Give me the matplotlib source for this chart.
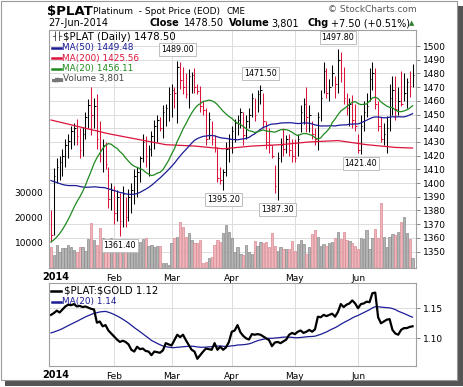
import matplotlib
matplotlib.use("Agg")
import matplotlib.pyplot as plt
from matplotlib.lines import Line2D
from matplotlib.patches import Rectangle
import numpy as np
import pandas as pd

# trading days on the chart
dates = pd.bdate_range("2014-01-02", "2014-06-27")

high = [1380, 1411, 1418, 1420, 1425, 1432, 1436, 1442, 1444, 1447,
        1440, 1441, 1452, 1461, 1470, 1462, 1465, 1445, 1432, 1430,
        1412, 1400, 1398, 1395, 1393, 1398, 1390, 1396, 1400, 1410,
        1412, 1420, 1436, 1434, 1428, 1438, 1446, 1450, 1448, 1457,
        1458, 1470, 1472, 1470, 1489, 1488, 1485, 1480, 1483, 1481,
        1484, 1472, 1471, 1460, 1455, 1452, 1445, 1435, 1426, 1412,
        1410, 1430, 1436, 1442, 1447, 1450, 1455, 1452, 1450, 1455,
        1466, 1462, 1468, 1471.5, 1466, 1445, 1440, 1428, 1413, 1423,
        1433, 1440, 1435, 1436, 1432, 1432, 1436, 1457, 1462, 1470,
        1457, 1445, 1440, 1452, 1468, 1488, 1484, 1476, 1486, 1478,
        1497.8, 1496, 1485, 1466, 1462, 1464, 1458, 1436, 1450, 1460,
        1466, 1484, 1488, 1484, 1460, 1448, 1444, 1449, 1472, 1478,
        1478, 1470, 1482, 1480, 1477, 1482, 1487]
low = [1357, 1362, 1400, 1402, 1405, 1412, 1418, 1425, 1428, 1428,
       1418, 1420, 1432, 1440, 1435, 1440, 1425, 1415, 1408, 1410,
       1382, 1380, 1370, 1372, 1361.4, 1368, 1368, 1372, 1378, 1385,
       1390, 1401, 1415, 1412, 1405, 1420, 1425, 1430, 1438, 1433,
       1442, 1445, 1448, 1455, 1444, 1469, 1465, 1462, 1455, 1466,
       1466, 1465, 1452, 1450, 1428, 1432, 1428, 1423, 1401, 1399,
       1395.2, 1405, 1415, 1422, 1430, 1435, 1440, 1428, 1432, 1440,
       1448, 1445, 1452, 1458, 1440, 1425, 1422, 1418, 1393, 1387.3,
       1415, 1420, 1422, 1420, 1415, 1415, 1420, 1437, 1443, 1437,
       1437, 1432, 1428, 1424, 1445, 1466, 1462, 1460, 1471, 1462,
       1466, 1474, 1458, 1450, 1442, 1440, 1438, 1422, 1421.4, 1438,
       1448, 1460, 1468, 1454, 1438, 1430, 1428, 1422, 1438, 1450,
       1446, 1450, 1456, 1460, 1455, 1463, 1470]
close = [1362, 1405, 1412, 1415, 1420, 1428, 1431, 1438, 1440, 1434,
         1424, 1436, 1448, 1457, 1450, 1456, 1432, 1420, 1428, 1414,
         1388, 1395, 1378, 1390, 1372, 1392, 1375, 1390, 1395, 1405,
         1408, 1418, 1430, 1420, 1425, 1434, 1442, 1446, 1440, 1452,
         1455, 1465, 1468, 1466, 1485, 1475, 1470, 1465, 1478, 1479,
         1470, 1467, 1456, 1453, 1432, 1447, 1432, 1426, 1404, 1402,
         1408, 1425, 1432, 1438, 1444, 1446, 1452, 1435, 1445, 1450,
         1462, 1450, 1465, 1468, 1445, 1430, 1428, 1420, 1398, 1418,
         1428, 1425, 1432, 1424, 1420, 1418, 1432, 1452, 1458, 1448,
         1450, 1436, 1432, 1448, 1462, 1482, 1466, 1470, 1480, 1472,
         1490, 1480, 1462, 1455, 1458, 1446, 1442, 1424, 1442, 1452,
         1456, 1476, 1480, 1458, 1442, 1432, 1436, 1440, 1462, 1468,
         1454, 1460, 1458, 1466, 1474, 1471, 1478.5]
volume = [8400, 5100, 9100, 6500, 7800, 7800, 9100, 8400, 7000, 6500,
          8400, 8400, 6700, 11500, 17700, 11100, 9000, 15700, 11700, 9100,
          8400, 11700, 11100, 9500, 9800, 8000, 8000, 10100, 9100, 10400,
          9100, 10100, 11300, 11700, 8700, 9000, 8400, 8700, 8800, 1800,
          2100, 1200, 10000, 11700, 12400, 18000, 16300, 12400, 13700, 11100,
          9800, 10000, 11100, 1800, 2500, 3800, 4500, 9000, 11100, 10400,
          13700, 17000, 14400, 11700, 6500, 8400, 5500, 5100, 9100, 6500,
          5500, 10700, 8800, 10300, 10000, 10300, 8400, 13900, 8800, 6900,
          8200, 7400, 7500, 7400, 10500, 6900, 9500, 11100, 9500, 5500,
          8300, 13300, 15000, 12400, 8700, 9400, 8800, 9700, 10400, 11700,
          14200, 11300, 14100, 11100, 10700, 9700, 8800, 7400, 12000, 11600,
          15000, 7500, 11700, 15400, 11700, 25800, 12100, 8400, 12400, 13300,
          13000, 14200, 18000, 20000, 14000, 11300, 3801]
# closes before the window, for the moving averages
prior_close = [1440, 1448, 1452, 1456, 1450, 1445, 1440, 1438, 1442, 1450,
               1455, 1460, 1452, 1448, 1444, 1440, 1436, 1430, 1428, 1425,
               1420, 1418, 1415, 1412, 1410, 1408, 1405, 1400, 1395, 1388,
               1375, 1370, 1365, 1360, 1358, 1355, 1352, 1350, 1352, 1355,
               1358, 1354, 1350, 1348, 1345, 1350, 1355, 1358, 1368]
ma200_day = [0, 10, 20, 30, 40, 50, 60, 70, 80, 90, 100, 110, 120, 126]
ma200 = [1446, 1441, 1436, 1432, 1428, 1427, 1425, 1427, 1428, 1430,
         1431, 1428, 1426, 1425.56]

ratio = [1.139, 1.142, 1.146, 1.143, 1.148, 1.153, 1.156, 1.155, 1.157, 1.153,
         1.154, 1.152, 1.153, 1.151, 1.149, 1.148, 1.126, 1.128, 1.120, 1.122,
         1.113, 1.108, 1.103, 1.098, 1.094, 1.096, 1.094, 1.090, 1.081, 1.078,
         1.086, 1.082, 1.083, 1.079, 1.078, 1.072, 1.078, 1.077, 1.076, 1.080,
         1.092, 1.090, 1.088, 1.097, 1.106, 1.102, 1.106, 1.097, 1.089, 1.081,
         1.078, 1.066, 1.072, 1.078, 1.083, 1.082, 1.081, 1.092, 1.081, 1.086,
         1.081, 1.085, 1.094, 1.111, 1.113, 1.122, 1.110, 1.104, 1.100, 1.098,
         1.107, 1.106, 1.107, 1.106, 1.103, 1.100, 1.097, 1.087, 1.093, 1.094,
         1.092, 1.095, 1.098, 1.106, 1.109, 1.107, 1.111, 1.113, 1.109, 1.111,
         1.114, 1.111, 1.115, 1.136, 1.135, 1.139, 1.137, 1.139, 1.141, 1.136,
         1.144, 1.157, 1.152, 1.156, 1.158, 1.163, 1.158, 1.150, 1.157, 1.158,
         1.161, 1.160, 1.175, 1.176, 1.135, 1.125, 1.128, 1.131, 1.132, 1.114,
         1.108, 1.106, 1.114, 1.117, 1.117, 1.119, 1.120]
prior_ratio = [1.112, 1.110, 1.108, 1.105, 1.103, 1.106, 1.108, 1.110, 1.107, 1.104,
               1.102, 1.105, 1.108, 1.110, 1.109, 1.106, 1.104, 1.108, 1.116]

label_days = [24, 44, 60, 73, 79, 100, 108]
label_side = ["low", "high", "low", "high", "low", "high", "low"]

price_ticks = list(range(1350, 1501, 10))
vol_ticks = [10000, 20000, 30000]
ratio_ticks = [1.10, 1.15]

RED = "#dc143c"
NAVY = "#1c1c96"
GREEN = "#1f8a1f"

plt.rcParams["font.family"] = ["DejaVu Sans"]
plt.rcParams["text.parse_math"] = False

W, H = 464, 387
fig = plt.figure(figsize=(W / 100, H / 100), dpi=100)


def fx(px):
    return px / W


def fy(py):
    return 1 - py / H


main_rect = [fx(49), fy(268), fx(416) - fx(49), fy(30) - fy(268)]
low_rect = [fx(49), fy(366), fx(416) - fx(49), fy(283) - fy(366)]

x = np.arange(len(dates))
npre = len(prior_close)
c_all = pd.Series(prior_close + close)
ma20 = c_all.rolling(20).mean().to_numpy()[npre:]
ma50 = c_all.rolling(50).mean().to_numpy()[npre:]
prev = np.r_[prior_close[-1], close[:-1]]
down = np.array(close) < prev
r_all = pd.Series(prior_ratio + ratio)
rma20 = r_all.rolling(20).mean().to_numpy()[len(prior_ratio):]

months = dates.to_period("M")
month_idx = [i for i in range(1, len(dates)) if months[i] != months[i - 1]]
month_lab = [dates[i].strftime("%b") for i in month_idx]

xlim = (-0.7, 127.2)
plim = (1338, 1511.7)
GRID = "#dcdcdc"
SPINE = "#a0a0a0"

# grid layer
axg = fig.add_axes(main_rect)
axg.set_xlim(xlim)
axg.set_ylim(plim)
for lv in price_ticks:
    axg.axhline(lv, color=GRID, lw=0.7)
for m in month_idx:
    axg.axvline(m, color=GRID, lw=0.7)
axg.axis("off")

# volume layer
axv = fig.add_axes(main_rect)
axv.patch.set_visible(False)
axv.set_xlim(xlim)
axv.set_ylim(0, 94000)
axv.bar(x, volume, width=0.8,
        color=np.where(down, "#f0b4ba", "#b4b4b4"),
        edgecolor=np.where(down, "#d88a94", "#8a8a8a"), linewidth=0.5)
for s in axv.spines.values():
    s.set_visible(False)
axv.set_xticks([])
axv.set_yticks(vol_ticks)
axv.set_yticklabels([str(v) for v in vol_ticks])
axv.tick_params(axis="y", length=0, pad=4, labelsize=6.5)

# price layer
ax = fig.add_axes(main_rect)
ax.patch.set_visible(False)
ax.set_xlim(xlim)
ax.set_ylim(plim)
cols = np.where(down, RED, "black")
ax.vlines(x, low, high, colors=cols, lw=0.75)
ax.hlines(close, x, x + 0.55, colors=cols, lw=0.75)
ax.plot(ma200_day, ma200, color=RED, lw=0.9)
ax.plot(x, ma50, color=NAVY, lw=0.9)
ax.plot(x, ma20, color=GREEN, lw=0.9)

for d, side in zip(label_days, label_side):
    v = high[d] if side == "high" else low[d]
    off = 11.5 if side == "high" else -9.5
    ax.annotate(f"{v:.2f}", xy=(d, v), xytext=(0, off), textcoords="offset pixels",
                ha="center", va="center", fontsize=5.8,
                bbox=dict(boxstyle="square,pad=0.25", fc="white", ec="#bdbdbd", lw=0.7))

ax.yaxis.tick_right()
ax.set_yticks(price_ticks)
ax.tick_params(axis="y", direction="out", length=3, width=0.6, color="#777777",
               pad=2, labelsize=6.5)
ax.set_xticks(month_idx)
ax.set_xticklabels(month_lab)
ax.tick_params(axis="x", length=0, pad=4, labelsize=6.5)
ax.text(1.6, -0.036, "2014", transform=ax.get_xaxis_transform(), ha="center",
        va="center", fontsize=7, fontweight="bold")
for s in ax.spines.values():
    s.set_color(SPINE)
    s.set_linewidth(0.8)

# ratio panel
ax2 = fig.add_axes(low_rect)
ax2.set_xlim(xlim)
ax2.set_ylim(1.054, 1.192)
for lv in ratio_ticks:
    ax2.axhline(lv, color=GRID, lw=0.7, zorder=0)
for m in month_idx:
    ax2.axvline(m, color=GRID, lw=0.7, zorder=0)
ax2.plot(x, rma20, color=NAVY, lw=0.9)
ax2.plot(x, ratio, color="black", lw=1.6)
ax2.yaxis.tick_right()
ax2.set_yticks(ratio_ticks)
ax2.set_yticklabels([f"{v:.2f}" for v in ratio_ticks])
ax2.tick_params(axis="y", direction="out", length=3, width=0.6, color="#777777",
                pad=2, labelsize=6.5)
ax2.set_xticks(month_idx)
ax2.set_xticklabels(month_lab)
ax2.tick_params(axis="x", length=0, pad=4, labelsize=6.5)
ax2.text(1.6, -0.105, "2014", transform=ax2.get_xaxis_transform(), ha="center",
         va="center", fontsize=7, fontweight="bold")
for s in ax2.spines.values():
    s.set_color(SPINE)
    s.set_linewidth(0.8)


def ftext(px, py, s, **kw):
    kw.setdefault("va", "center")
    kw.setdefault("ha", "left")
    fig.text(fx(px), fy(py), s, **kw)


# header
ftext(47, 11, "$PLAT", fontsize=9.5, fontweight="bold")
ftext(93, 11, "Platinum  - Spot Price (EOD)", fontsize=6.5)
ftext(227, 11, "CME", fontsize=6.2)
ftext(417, 10, "\u00a9 StockCharts.com", fontsize=6.5, color="#555555", ha="right")
ftext(48, 23.5, "27-Jun-2014", fontsize=7)
ftext(149, 23.5, "Close", fontsize=7, fontweight="bold")
ftext(184, 23.5, "1478.50", fontsize=7)
ftext(229, 23.5, "Volume", fontsize=7, fontweight="bold")
ftext(271, 23.5, "3,801", fontsize=7)
ftext(308, 23.5, "Chg", fontsize=7, fontweight="bold")
ftext(331, 23.5, "+7.50 (+0.51%)", fontsize=7)
ftext(409, 23, "\u25b2", fontsize=5, color="#2e7d32")

# legend of the price panel
ftext(52, 36.5, "\u2524\u251c", fontsize=6, color="black")
ftext(63, 36.5, "$PLAT (Daily) 1478.50", fontsize=7.3)
rows = [(47.5, "MA(50) 1449.48", NAVY), (58, "MA(200) 1425.56", RED),
        (68.5, "MA(20) 1456.11", GREEN)]
for py, s, c in rows:
    fig.add_artist(Line2D([fx(52), fx(61)], [fy(py), fy(py)], color=c, lw=1.8))
    ftext(62, py, s, fontsize=6.4, color=c)
ftext(51, 79, "\u2585\u2587\u2586", fontsize=3.8, color="#777777")
ftext(63, 79, "Volume 3,801", fontsize=6.4, color="#444444")

# legend of the ratio panel
fig.add_artist(Line2D([fx(51), fx(61)], [fy(290.5), fy(290.5)], color="black", lw=1.8))
ftext(64, 290.5, "$PLAT:$GOLD 1.12", fontsize=7.3)
fig.add_artist(Line2D([fx(52), fx(61)], [fy(301.5), fy(301.5)], color=NAVY, lw=1.8))
ftext(62, 301.5, "MA(20) 1.14", fontsize=6.4, color=NAVY)

# outer frame with shadow
fig.add_artist(Rectangle((fx(5), fy(386)), fx(463) - fx(5), fy(6) - fy(386),
                         transform=fig.transFigure, fc="#555555", ec="none", zorder=-2))
fig.add_artist(Rectangle((fx(0.5), fy(380)), fx(457) - fx(0.5), fy(0.5) - fy(380),
                         transform=fig.transFigure, fc="white", ec="#9a9a9a",
                         lw=0.8, zorder=-1))

fig.savefig("out.png", dpi=100)
